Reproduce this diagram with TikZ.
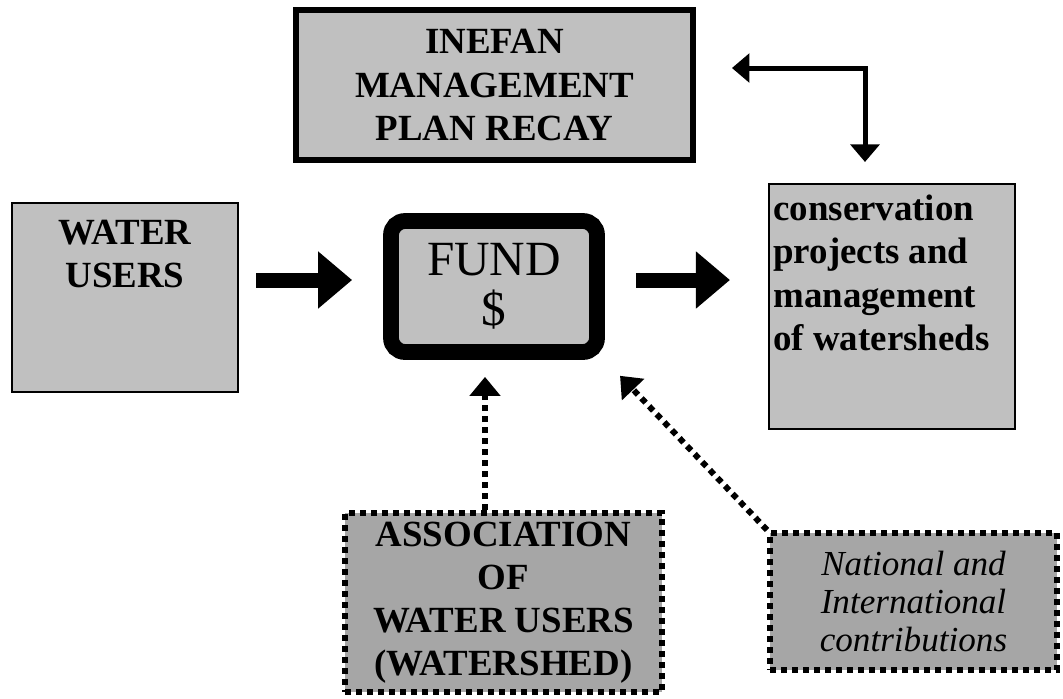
\documentclass[tikz,border=0pt]{standalone}
\usepackage{fontspec}
\setmainfont{Liberation Serif}
\usetikzlibrary{arrows.meta,positioning}

\definecolor{silver}{RGB}{192,192,192}
\definecolor{patgray}{RGB}{166,166,166}

\begin{document}
\begin{tikzpicture}[
    x=0.02cm, y=-0.02cm,
    % Define styles for boxes and arrows
    greybox/.style={draw, fill=silver, line width=1.2pt, inner sep=0pt},
    planbox/.style={greybox, line width=3.4pt},
    fundbox/.style={greybox, line width=9pt, rounded corners=2.8mm},
    dotbox/.style={draw, fill=patgray, line width=0.12cm, dash pattern=on 0.12cm off 0.1cm, inner sep=0pt},
    boldtext/.style={font=\fontsize{21}{24.5}\selectfont\bfseries, align=center, inner sep=0pt},
    italtext/.style={font=\fontsize{20}{21.8}\selectfont\itshape, align=center, inner sep=0pt},
    fat_arrow/.style={-{Triangle[width=1.1cm,length=0.68cm]}, line width=0.3cm},
    elbow_arrow/.style={{Triangle[width=0.57cm,length=0.35cm]}-{Triangle[width=0.57cm,length=0.35cm]}, line width=0.1cm},
    dot_arrow/.style={-{Triangle[width=0.6cm,length=0.38cm]}, line width=0.12cm, dash pattern=on 0.12cm off 0.1cm}
]

% Fix the picture size
\useasboundingbox (0,0) rectangle (1063,698);

% Top management plan
\node[planbox, boldtext, minimum width=7.94cm, minimum height=3cm] (inefan) at (494.5,85) {INEFAN\\MANAGEMENT\\PLAN RECAY};

% Middle row
\node[greybox, minimum width=4.52cm, minimum height=3.78cm] (users) at (125,297.5) {};
\node[boldtext, anchor=north] (usersText) at ([yshift=-0.35cm]users.north) {WATER\\USERS};

\node[fundbox, minimum width=4.12cm, minimum height=2.62cm, align=center, font=\fontsize{28}{28.5}\selectfont] (fund) at (494,286.5) {FUND\\\$};

\node[greybox, minimum width=4.92cm, minimum height=4.9cm] (cons) at (892,306.5) {};
\node[boldtext, align=left, anchor=north west] (consText) at ([xshift=0.1cm, yshift=-0.24cm]cons.north west) {conservation\\projects and\\management\\of watersheds};

% Bottom contributors
\node[dotbox, boldtext, minimum width=6.34cm, minimum height=3.58cm] (assoc) at (503.5,602.5) {ASSOCIATION\\OF\\WATER USERS\\(WATERSHED)};
\node[dotbox, italtext, minimum width=5.74cm, minimum height=2.74cm] (national) at (913.5,601.5) {National and\\International\\contributions};

% Main flow connections
\draw[fat_arrow, shorten <=0.34cm, shorten >=0.62cm] ([yshift=0.13cm]users.east |- fund.west) -- ([yshift=0.13cm]fund.west);
\draw[fat_arrow, shorten <=0.62cm, shorten >=0.76cm] ([yshift=0.13cm]fund.east) -- ([yshift=0.13cm]cons.west |- fund.east);

% Plan <-> projects
\draw[elbow_arrow] ([xshift=0.72cm, yshift=0.34cm]inefan.east) -| ([xshift=-0.54cm, yshift=0.42cm]cons.north);

% Contributions into the fund
\draw[dot_arrow, shorten >=0.34cm] ([xshift=-0.37cm]assoc.north) -- ([xshift=-0.37cm]assoc.north |- fund.south);
\draw[dot_arrow, shorten >=0.44cm] (national.north west) -- (fund.south east);

\end{tikzpicture}
\end{document}
